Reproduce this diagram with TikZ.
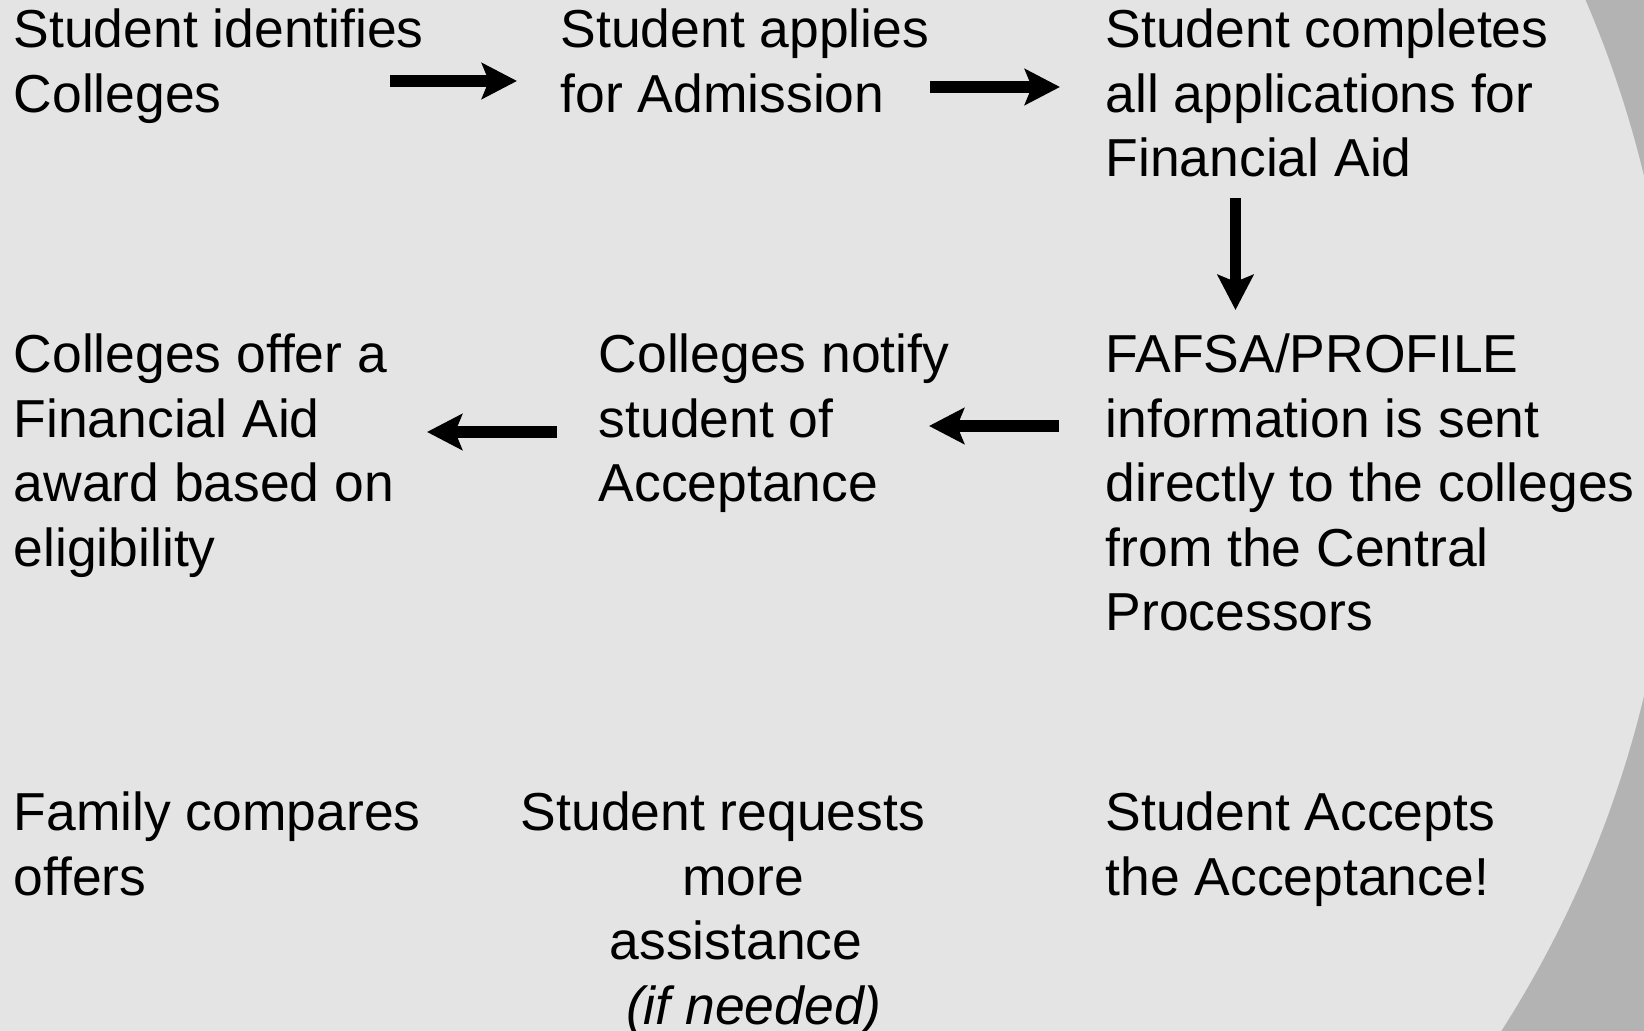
\documentclass[tikz,border=0pt]{standalone}
\usepackage{fontspec}
\setmainfont{Liberation Sans}
\usetikzlibrary{arrows.meta}
\definecolor{bglight}{HTML}{E4E4E4}
\definecolor{bgdark}{HTML}{B3B3B3}
\newcommand\mylines[1]{\vtop{\halign{##\hfil\cr#1\crcr}}}
\newcommand\mycenter[1]{\vtop{\halign{\hfil##\hfil\cr#1\crcr}}}
\tikzset{
  txt/.style={font=\fontsize{15.2pt}{18.3pt}\selectfont, inner sep=0pt, anchor=base west, text=black},
  ctxt/.style={txt, anchor=base},
  flow/.style={line width=3.4pt, -{Stealth[length=10pt,width=10.2pt,inset=2pt]}},
}
\begin{document}
\begin{tikzpicture}[x=0.01cm,y=-0.01cm]
\useasboundingbox (0,0) rectangle (1644,1031);
\begin{scope}
  \clip (0,0) rectangle (1644,1031);
  \fill[bgdark] (0,0) rectangle (1644,1031);
  \fill[bglight] (568,436) circle[radius=11.06cm];
\end{scope}

% row 1
\node[txt] (identify) at (13,48) {\mylines{Student identifies\cr Colleges}};
\node[txt] (apply) at (560,48) {\mylines{Student applies\cr for Admission}};
\node[txt] (complete) at (1105,48) {\mylines{Student completes\cr all applications for\cr Financial Aid}};
% row 2
\node[txt] (offer) at (13,373) {\mylines{Colleges offer a\cr Financial Aid\cr award based on\cr eligibility}};
\node[txt] (notify) at (598,373) {\mylines{Colleges notify\cr student of\cr Acceptance}};
\node[txt] (fafsa) at (1105,373) {\mylines{FAFSA/PROFILE\cr information is sent\cr directly to the colleges\cr from the Central\cr Processors}};
% row 3
\node[txt] (compare) at (13,831) {\mylines{Family compares\cr offers}};
\node[ctxt] (request) at (736,831) {\mycenter{Student requests\kern7.4pt\cr \kern4pt more\cr assistance\cr \kern10.2pt\itshape (if needed)}};
\node[txt] (accept) at (1105,831) {\mylines{Student Accepts\cr the Acceptance!}};

% connector end points
\coordinate (a1s) at (390,81);  \coordinate (a1e) at (517,81);
\coordinate (a2s) at (930,87);  \coordinate (a2e) at (1060,87);
\coordinate (a3s) at (1235.5,198); \coordinate (a3e) at (1235.5,310);
\coordinate (a4s) at (1059,426); \coordinate (a4e) at (929,426);
\coordinate (a5s) at (557,432); \coordinate (a5e) at (427,432);

\draw[flow] (a1s) -- (a1e);
\draw[flow] (a2s) -- (a2e);
\draw[flow] (a3s) -- (a3e);
\draw[flow] (a4s) -- (a4e);
\draw[flow] (a5s) -- (a5e);
\end{tikzpicture}
\end{document}
